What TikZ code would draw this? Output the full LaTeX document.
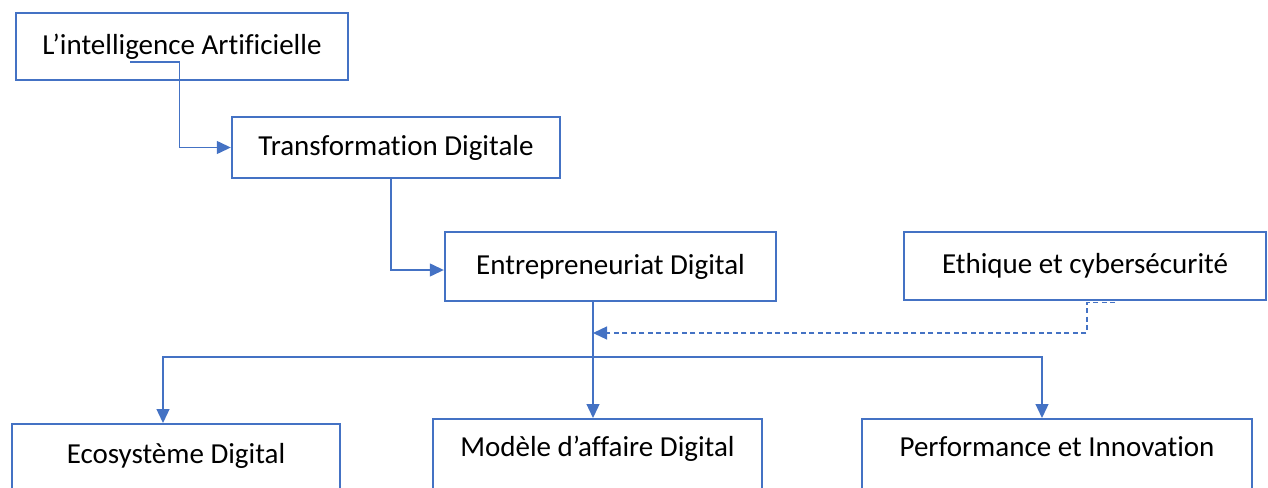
\documentclass[tikz,border=0pt]{standalone}
\usepackage{fontspec}
\setmainfont[Ligatures=NoCommon]{Carlito}
\usetikzlibrary{arrows.meta,calc}
\definecolor{officeblue}{HTML}{4472C4}
\begin{document}
\begin{tikzpicture}[x=1pt,y=-1pt,
  box/.style={draw=officeblue,line width=2.4pt,inner sep=0pt,
    font=\fontsize{29}{34}\selectfont,text=black},
  openbox/.style={box,anchor=north,text height=39pt,text depth=45pt},
  conn/.style={draw=officeblue,line width=1.3pt,
    -{Triangle[length=14pt,width=13pt]}},
  dconn/.style={conn,dash pattern=on 5pt off 3.5pt}]
\useasboundingbox (0,0) rectangle (1268,487);
\clip (0,0) rectangle (1268,487);

% upper chain
\node[box,minimum width=332pt,minimum height=67pt] (ai) at (182,46.5) {L’intelligence Artificielle};
\node[box,minimum width=328pt,minimum height=61pt] (td) at (396,147.5) {Transformation Digitale};
\node[box,minimum width=331pt,minimum height=69pt] (ed) at (610.5,266.5) {Entrepreneuriat Digital};
\node[box,minimum width=362pt,minimum height=68pt] (eth) at (1085,266) {Ethique et cybersécurité};

% lower row, boxes run past the bottom edge
\node[openbox,minimum width=328pt] (eco) at (176,423) {Ecosystème Digital};
\node[openbox,minimum width=329pt,text height=37pt] (mad) at (597.5,418) {Modèle d’affaire Digital};
\node[openbox,minimum width=390pt,text height=37pt] (perf) at (1057,418) {Performance et Innovation};

% junction points
\coordinate (aiout) at (130,62);
\coordinate (hub) at (593,357);
\coordinate (dj) at (593,333);

% connectors
\draw[conn] (aiout) -| ([xshift=-51pt]td.west) -- (td.west);
\draw[conn] ([xshift=-5pt]td.south) |- ([yshift=-3.5pt]ed.west);
\draw[conn] ([xshift=-17.5pt]ed.south) -- ([xshift=-4.5pt]mad.north);
\draw[conn] (hub) -| ([xshift=-13pt]eco.north);
\draw[conn] (hub) -| ([xshift=-15pt]perf.north);
\draw[dconn] ([xshift=30pt,yshift=-1pt]eth.south) -- ([xshift=2pt,yshift=-1pt]eth.south) |- (dj);
\end{tikzpicture}
\end{document}
